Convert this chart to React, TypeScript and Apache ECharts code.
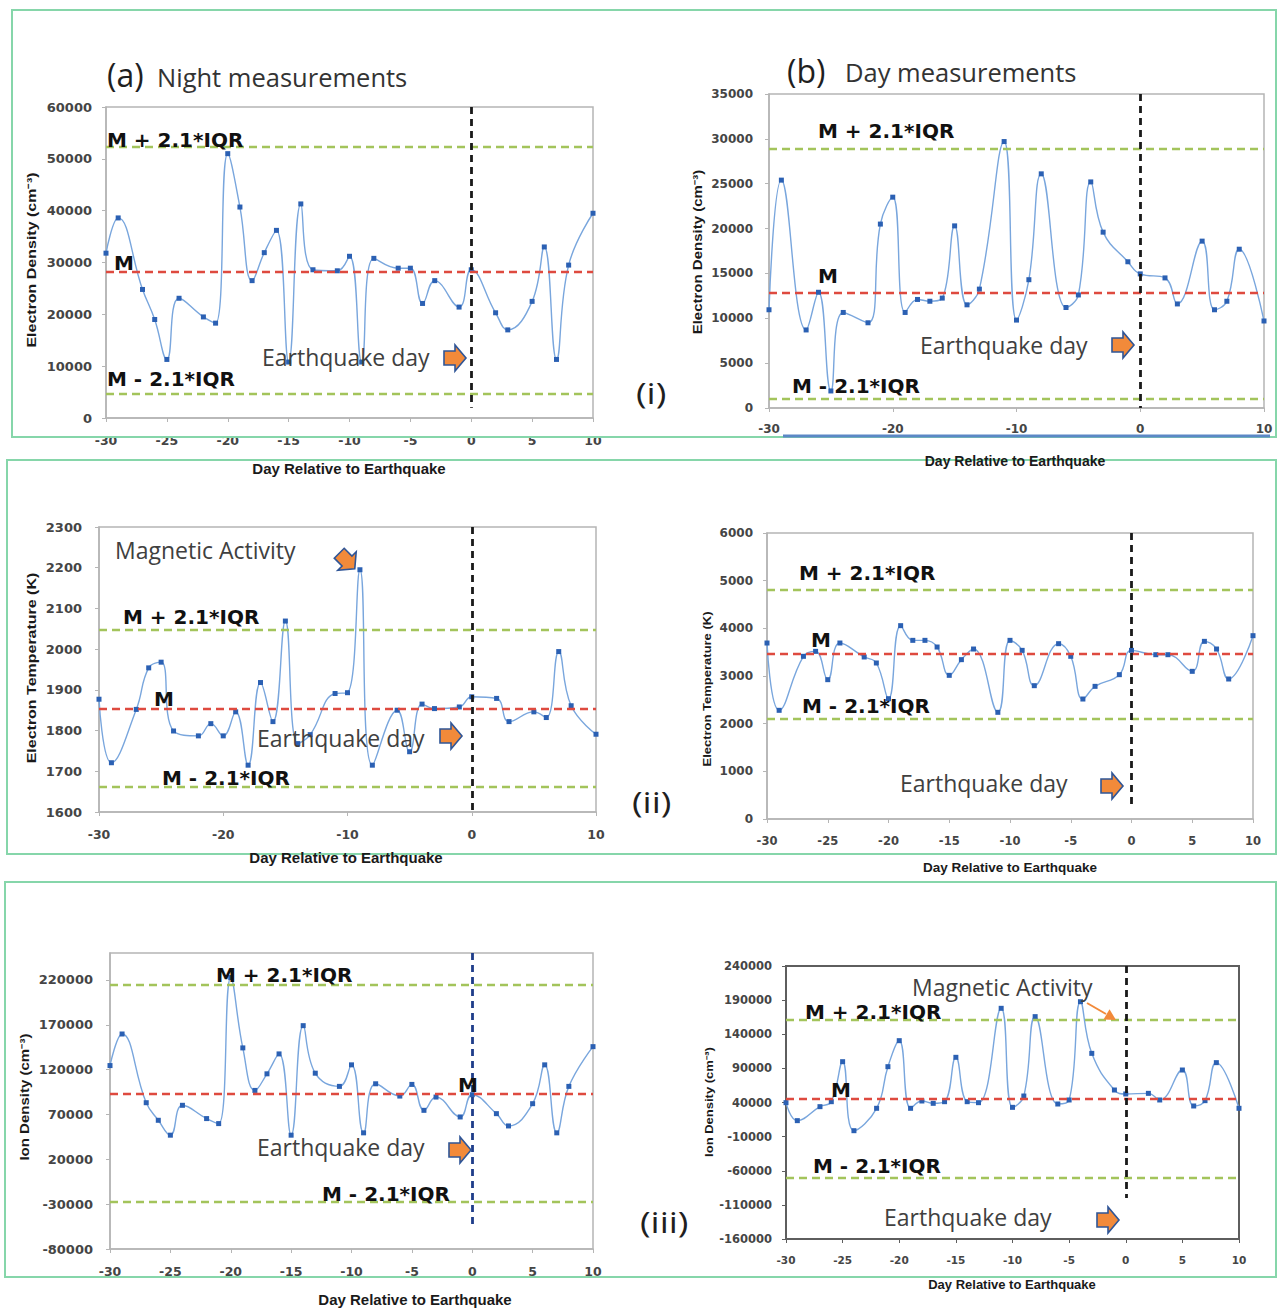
import React, { useEffect, useRef } from "react";
import * as echarts from "echarts";

// ---------------- data ----------------
const DAYS = [-30, -29, -27, -26, -25, -24, -22, -21, -20, -19, -18, -17, -16, -15, -14, -13, -11, -10, -9, -8, -6, -5, -4, -3, -1, 0, 2, 3, 5, 6, 7, 8, 10];
const DAY_RANGE = [-30, 10];

const nightNe = [31800, 38600, 24800, 19000, 11300, 23100, 19500, 18300, 51000, 40700, 26500, 31900, 36200, 10800, 41300, 28600, 28400, 31200, 10800, 30800, 28900, 28900, 22100, 26500, 21400, 28600, 20300, 17000, 22500, 33000, 11300, 29500, 39500];
const dayNe = [10950, 25400, 8700, 12900, 1900, 10650, 9500, 20500, 23500, 10650, 12100, 11900, 12250, 20300, 11500, 13250, 29700, 9800, 14300, 26100, 11200, 12600, 25200, 19600, 16300, 14950, 14500, 11600, 18600, 10950, 11900, 17700, 9700];
const nightTe = [1877, 1721, 1852, 1954, 1968, 1799, 1787, 1817, 1787, 1846, 1715, 1918, 1822, 2069, 1768, 1790, 1891, 1893, 2195, 1715, 1850, 1748, 1865, 1854, 1858, 1883, 1879, 1822, 1846, 1832, 1994, 1861, 1791];
const dayTe = [3692, 2280, 3413, 3517, 2923, 3692, 3399, 3273, 2524, 4056, 3748, 3748, 3608, 3014, 3343, 3566, 2238, 3748, 3538, 2797, 3678, 3413, 2517, 2783, 3028, 3538, 3447, 3447, 3098, 3727, 3566, 2937, 3846];
const nightNi = [124500, 159700, 83100, 63500, 46900, 80200, 65400, 59800, 222600, 144200, 96800, 115300, 137500, 46900, 169000, 116000, 101300, 125300, 49500, 104200, 90500, 103500, 74600, 89400, 67200, 92000, 70900, 57200, 82000, 125300, 49500, 101300, 145600];
const dayNi = [39750, 13400, 33900, 41200, 99800, -1300, 31500, 92500, 130600, 31500, 42200, 38800, 41200, 106200, 41200, 39750, 178000, 32900, 49500, 165800, 37800, 43700, 187700, 112000, 58300, 52500, 53400, 43700, 87600, 34900, 42700, 98400, 31500];

// [M + 2.1*IQR, M, M - 2.1*IQR]
const nightNeLimits = [52300, 28300, 4700];
const dayNeLimits = [28900, 12800, 1000];
const nightTeLimits = [2047, 1854, 1663];
const dayTeLimits = [4800, 3460, 2100];
const nightNiLimits = [214400, 93100, -27800];
const dayNiLimits = [160900, 45100, -69700];

// y axis [min, max, interval]
const nightNeAxis = [0, 60000, 10000];
const dayNeAxis = [0, 35000, 5000];
const nightTeAxis = [1600, 2300, 100];
const dayTeAxis = [0, 6000, 1000];
const nightNiAxis = [-80000, 250000, 50000];
const dayNiAxis = [-160000, 240000, 50000];

const X_TITLE = "Day Relative to Earthquake";
const Y_TITLES = ["Electron Density (cm\u207B\u00B3)", "Electron Density (cm\u207B\u00B3)", "Electron Temperature (K)", "Electron Temperature (K)", "Ion Density (cm\u207B\u00B3)", "Ion Density (cm\u207B\u00B3)"];

// ---------------- layout / styles ----------------
const F_TICK = "'DejaVu Sans', sans-serif";
const F_BOLD = "'DejaVu Sans', sans-serif";
const F_ANN = "'Open Sans', sans-serif";
const F_AX = "'Liberation Sans', Arial, sans-serif";

const PANELS = [
  { values: nightNe, limits: nightNeLimits, y: nightNeAxis, xStep: 5, zeroEnd: 2000, zeroColor: "#1a1a1a", grid: { left: 106, top: 107, width: 487, height: 311 }, border: "#b5b5b5", bw: 1.5, yFont: 13, xFont: 12.5, yMargin: 14, xMargin: 16, yTitle: [32, 260, 16], xTitle: [349, 468, 15] },
  { values: dayNe, limits: dayNeLimits, y: dayNeAxis, xStep: 10, zeroEnd: 0, zeroColor: "#1a1a1a", grid: { left: 769, top: 94, width: 495, height: 314 }, border: "#b5b5b5", bw: 1.5, yFont: 12, xFont: 12, yMargin: 16, xMargin: 15, yTitle: [698, 252, 15], xTitle: [1015, 461, 14] },
  { values: nightTe, limits: nightTeLimits, y: nightTeAxis, xStep: 10, zeroEnd: 1600, zeroColor: "#1a1a1a", grid: { left: 99, top: 527, width: 497, height: 285 }, border: "#b5b5b5", bw: 1.5, yFont: 13, xFont: 12.5, yMargin: 17, xMargin: 16, yTitle: [32, 668, 16], xTitle: [346, 857, 15] },
  { values: dayTe, limits: dayTeLimits, y: dayTeAxis, xStep: 5, zeroEnd: 250, zeroColor: "#1a1a1a", grid: { left: 767, top: 533, width: 486, height: 286 }, border: "#b5b5b5", bw: 1.5, yFont: 12, xFont: 11.5, yMargin: 14, xMargin: 16, yTitle: [707, 689, 13], xTitle: [1010, 867, 13.5] },
  { values: nightNi, limits: nightNiLimits, y: nightNiAxis, xStep: 5, zeroEnd: -55000, zeroColor: "#1f3d8a", grid: { left: 110, top: 953, width: 483, height: 296 }, border: "#b5b5b5", bw: 1.5, yFont: 13, xFont: 12.5, yMargin: 17, xMargin: 16, yTitle: [25, 1097, 15], xTitle: [415, 1299, 15] },
  { values: dayNi, limits: dayNiLimits, y: dayNiAxis, xStep: 5, zeroEnd: -100000, zeroColor: "#1a1a1a", grid: { left: 786, top: 966, width: 453, height: 273 }, border: "#5e5e5e", bw: 2, yFont: 11.5, xFont: 10.5, yMargin: 14, xMargin: 15, yTitle: [709, 1102, 13], xTitle: [1012, 1284, 13] },
];

const GREEN = "#a3c45b";
const RED = "#de4a3f";
const LINE = "#79a6dd";
const MARK = "#2b60b3";
const BOX = "#86d6aa";
const ORANGE = "#f28a3a";
const ARROW_EDGE = "#2f5597";

function text(str: string, x: number, y: number, o: any) {
  return {
    type: "text",
    x,
    y,
    z: 50,
    rotation: o.rot || 0,
    scaleX: o.sx || 1,
    scaleY: o.sy || 1,
    style: {
      text: str,
      fill: o.color || "#000",
      fontSize: o.size,
      fontFamily: o.family,
      fontWeight: o.weight || "normal",
      align: o.align || "left",
      textAlign: o.align || "left",
      verticalAlign: "middle",
      textVerticalAlign: "middle",
    },
  };
}

function blockArrow(cx: number, cy: number, rot = 0) {
  return {
    type: "polygon",
    x: cx,
    y: cy,
    rotation: rot,
    z: 60,
    shape: { points: [[-11, -7], [0, -7], [0, -13], [11, 0], [0, 13], [0, 7], [-11, 7]] },
    style: { fill: ORANGE, stroke: ARROW_EDGE, lineWidth: 1.6 },
  };
}

const mLabel = (s: string, x: number, y: number) => text(s, x, y, { size: 20, family: F_BOLD, weight: "bold", color: "#111" });
const grayLabel = (s: string, x: number, y: number) => text(s, x, y, { size: 23, family: F_ANN, color: "#404040" });

function buildGraphics() {
  const g: any[] = [];
  const boxes = [
    [12, 10, 1264, 427],
    [7, 460, 1269, 394],
    [5, 882, 1271, 395],
  ];
  boxes.forEach(([x, y, w, h]) =>
    g.push({ type: "rect", z: 1, shape: { x, y, width: w, height: h }, style: { fill: "none", stroke: BOX, lineWidth: 2 } })
  );
  g.push({ type: "line", z: 2, shape: { x1: 783, y1: 436, x2: 1270, y2: 436 }, style: { stroke: "#5b88c6", lineWidth: 3 } });

  // titles
  g.push(text("(a)", 107, 74, { size: 32, family: F_ANN, color: "#1f1f1f" }));
  g.push(text("Night measurements", 157, 77, { size: 25.5, family: F_ANN, color: "#333" }));
  g.push(text("(b)", 787, 70, { size: 32, family: F_ANN, color: "#1f1f1f" }));
  g.push(text("Day measurements", 845, 72, { size: 25.5, family: F_ANN, color: "#333" }));
  g.push(text("(i)", 636, 393, { size: 30, family: F_ANN, color: "#1f1f1f", sx: 1.2 }));
  g.push(text("(ii)", 632, 802, { size: 30, family: F_ANN, color: "#1f1f1f", sx: 1.2 }));
  g.push(text("(iii)", 640, 1222, { size: 30, family: F_ANN, color: "#1f1f1f", sx: 1.2 }));

  // panel a-i
  g.push(mLabel("M + 2.1*IQR", 107, 140));
  g.push(mLabel("M", 114, 263));
  g.push(mLabel("M - 2.1*IQR", 107, 379));
  g.push(grayLabel("Earthquake day", 262, 357));
  g.push(blockArrow(455, 358));
  // panel b-i
  g.push(mLabel("M + 2.1*IQR", 818, 131));
  g.push(mLabel("M", 818, 276));
  g.push(mLabel("M - 2.1*IQR", 792, 386));
  g.push(grayLabel("Earthquake day", 920, 345));
  g.push(blockArrow(1123, 345));
  // panel a-ii
  g.push(grayLabel("Magnetic Activity", 115, 550));
  g.push(blockArrow(347, 561, -Math.PI / 4));
  g.push(mLabel("M + 2.1*IQR", 123, 617));
  g.push(mLabel("M", 154, 699));
  g.push(grayLabel("Earthquake day", 257, 738));
  g.push(blockArrow(451, 736));
  g.push(mLabel("M - 2.1*IQR", 162, 778));
  // panel b-ii
  g.push(mLabel("M + 2.1*IQR", 799, 573));
  g.push(mLabel("M", 811, 640));
  g.push(mLabel("M - 2.1*IQR", 802, 706));
  g.push(grayLabel("Earthquake day", 900, 783));
  g.push(blockArrow(1112, 786));
  // panel a-iii
  g.push(mLabel("M + 2.1*IQR", 216, 975));
  g.push(mLabel("M", 458, 1085));
  g.push(grayLabel("Earthquake day", 257, 1147));
  g.push(blockArrow(460, 1150));
  g.push(mLabel("M - 2.1*IQR", 322, 1194));
  // panel b-iii
  g.push(grayLabel("Magnetic Activity", 912, 987));
  g.push({ type: "line", z: 60, shape: { x1: 1087, y1: 1003, x2: 1106, y2: 1014 }, style: { stroke: ORANGE, lineWidth: 2 } });
  g.push({ type: "polygon", z: 60, shape: { points: [[1116, 1020], [1103.5, 1019.6], [1109.5, 1009.2]] }, style: { fill: ORANGE } });
  g.push(mLabel("M + 2.1*IQR", 805, 1012));
  g.push(mLabel("M", 831, 1090));
  g.push(mLabel("M - 2.1*IQR", 813, 1166));
  g.push(grayLabel("Earthquake day", 884, 1217));
  g.push(blockArrow(1108, 1220));

  // axis titles
  PANELS.forEach((p, i) => {
    g.push(text(X_TITLE, p.xTitle[0], p.xTitle[1], { size: p.xTitle[2], family: F_AX, weight: "bold", color: "#1a1a1a", align: "center" }));
    g.push(text(Y_TITLES[i], p.yTitle[0], p.yTitle[1], { size: p.yTitle[2], family: F_AX, weight: "bold", color: "#1a1a1a", align: "center", rot: Math.PI / 2, sy: 0.8 }));
  });
  return g;
}

function buildOption() {
  const grid: any[] = [];
  const xAxis: any[] = [];
  const yAxis: any[] = [];
  const series: any[] = [];
  PANELS.forEach((p, i) => {
    grid.push({ ...p.grid, show: true, borderColor: p.border, borderWidth: p.bw, backgroundColor: "transparent", containLabel: false, outerBoundsMode: "none" });
    const axisLine = { show: true, onZero: false, lineStyle: { color: p.border, width: p.bw } };
    const axisTick = { show: true, length: 4, lineStyle: { color: p.border, width: 1 } };
    xAxis.push({
      type: "value",
      gridIndex: i,
      min: DAY_RANGE[0],
      max: DAY_RANGE[1],
      interval: p.xStep,
      axisLine,
      axisTick,
      splitLine: { show: false },
      axisLabel: { margin: p.xMargin, fontSize: p.xFont, fontFamily: F_TICK, fontWeight: "bold", color: "#454545", formatter: (v: number) => String(v), hideOverlap: false },
    });
    yAxis.push({
      type: "value",
      gridIndex: i,
      min: p.y[0],
      max: p.y[1],
      interval: p.y[2],
      axisLine,
      axisTick,
      splitLine: { show: false },
      axisLabel: {
        margin: p.yMargin,
        fontSize: p.yFont,
        fontFamily: F_TICK,
        fontWeight: "bold",
        color: "#454545",
        formatter: (v: number) => String(v),
        showMaxLabel: (p.y[1] - p.y[0]) % p.y[2] === 0,
        hideOverlap: false,
      },
    });
    const dash = (color: string) => ({ color, type: [8, 5], width: 2.3 });
    const zero = { color: p.zeroColor, type: [7, 5], width: 2.8 };
    series.push({
      type: "line",
      xAxisIndex: i,
      yAxisIndex: i,
      data: DAYS.map((d, k) => [d, p.values[k]]),
      smooth: 0.45,
      symbol: "rect",
      symbolSize: 5,
      showSymbol: true,
      silent: true,
      clip: false,
      z: 3,
      itemStyle: { color: MARK },
      lineStyle: { color: LINE, width: 1.4 },
      markLine: {
        silent: true,
        symbol: "none",
        animation: false,
        label: { show: false },
        data: [
          { yAxis: p.limits[0], lineStyle: dash(GREEN) },
          { yAxis: p.limits[1], lineStyle: dash(RED) },
          { yAxis: p.limits[2], lineStyle: dash(GREEN) },
          [
            { coord: [0, p.y[1]], lineStyle: zero },
            { coord: [0, p.zeroEnd], lineStyle: zero },
          ],
        ],
      },
    });
  });
  return {
    animation: false,
    backgroundColor: "#ffffff",
    grid,
    xAxis,
    yAxis,
    series,
    graphic: { elements: buildGraphics() },
  };
}

export default function App() {
  const ref = useRef<HTMLDivElement>(null);
  useEffect(() => {
    document.body.style.margin = "0";
    if (!ref.current) return;
    const chart = echarts.init(ref.current, undefined, { renderer: "svg" });
    chart.setOption(buildOption() as any);
    return () => chart.dispose();
  }, []);
  return <div ref={ref} style={{ width: 1279, height: 1309 }} />;
}
